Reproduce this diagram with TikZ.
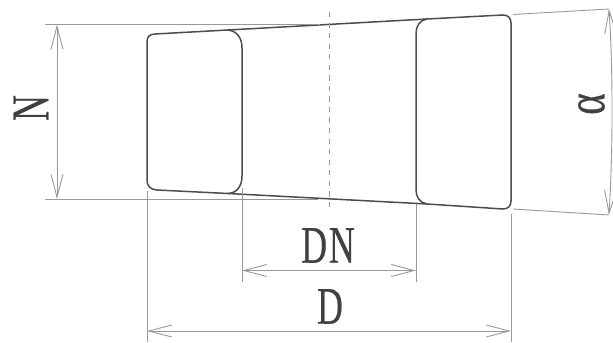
\documentclass[tikz,border=0pt]{standalone}
\usepackage{fontspec}
\setmainfont[FakeBold=0.5]{Liberation Serif}
\usetikzlibrary{arrows.meta}
\newcommand{\dimtext}[1]{\scalebox{0.68}[1]{#1}}
\tikzset{
  dimline/.style={gray!80!white,line width=0.18mm},
  dimarrow/.style={dimline,{Straight Barb[length=4.6mm,width=2.4mm]}-{Straight Barb[length=4.6mm,width=2.4mm]}},
  outline/.style={black!70,line width=0.3mm},
  dimlabel/.style={text=black!75,inner sep=0pt,font=\fontsize{30}{30}\selectfont}
}
\begin{document}
\begin{tikzpicture}[x=0.2mm,y=-0.2mm]
    \useasboundingbox (0,0) rectangle (613,343);
    %% Block outlines
    \draw[outline] (147,42) .. controls (147,36) and (150,34.3) .. (155,34) -- (228,30)
        .. controls (237,31) and (242,38) .. (242,48) -- (242,176)
        .. controls (242,186) and (237,193) .. (228,193.5) -- (157,190)
        .. controls (150,189.5) and (147,186) .. (147,180) -- cycle;
    \draw[outline] (427,19) .. controls (420,20) and (416,26) .. (416,33) -- (416,190)
        .. controls (416,197) and (420,203) .. (427,204) -- (503,209)
        .. controls (508,209) and (511,206) .. (511,201) -- (511,23)
        .. controls (511,18) and (508,15) .. (503,15) -- cycle;
    \draw[outline] (228,30) -- (427,19);
    \draw[outline] (228,193.5) -- (427,204);
    %% Centre line
    \draw[dimline,dashed] (329,12) -- (329,210);
    %% Extension lines
    \coordinate (Ntop) at (57,24.5);
    \coordinate (Nbot) at (57,199);
    \coordinate (DNleft) at (242,270.5);
    \coordinate (DNright) at (416,270.5);
    \coordinate (Dleft) at (147,331);
    \coordinate (Dright) at (511,331);
    \coordinate (Atop) at (609,9);
    \coordinate (Abot) at (609,215);
    \draw[dimline] (45,24.5) -- (320,24.5);
    \draw[dimline] (45,199) -- (318,199);
    \draw[dimline] (147,191) -- (147,342);
    \draw[dimline] (242,188) -- (242,282);
    \draw[dimline] (416,204) -- (416,282);
    \draw[dimline] (511,214) -- (511,342);
    \draw[dimline] (513,14.5) -- (Atop);
    \draw[dimline] (513,209) -- (Abot);
    %% Dimensions
    \draw[dimarrow] (Ntop) -- (Nbot);
    \draw[dimarrow] (DNleft) -- (DNright);
    \draw[dimarrow] (Dleft) -- (Dright);
    \draw[dimarrow] (Atop) .. controls (613,70) and (613,150) .. (Abot);
    %% Labels
    \node[dimlabel,rotate=90] (labelN) at (31,108) {\dimtext{N}};
    \node[dimlabel] (labelDN) at (328,245.5) {\dimtext{D\kern1.5pt N}};
    \node[dimlabel] (labelD) at (330,306.5) {\dimtext{D}};
    \node[dimlabel,rotate=90] (labelA) at (591.5,104) {\scalebox{0.78}[1.05]{α}};
\end{tikzpicture}
\end{document}
